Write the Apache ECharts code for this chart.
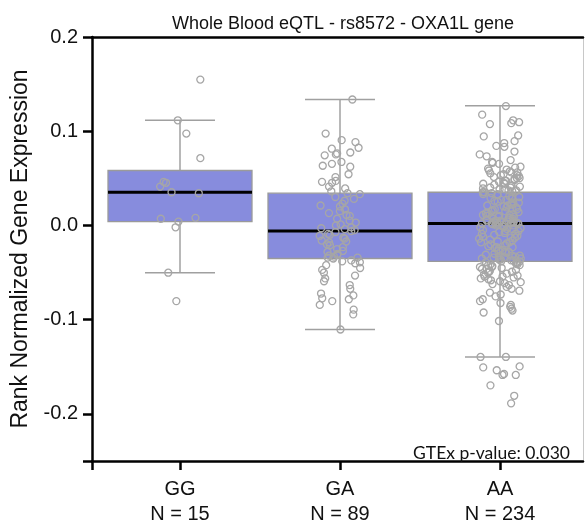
<!DOCTYPE html>
<html>
<head>
<meta charset="utf-8">
<script src="https://cdn.jsdelivr.net/npm/echarts@6/dist/echarts.min.js"></script>
<style>html,body{margin:0;padding:0;background:#fff}#c{width:585px;height:527px}</style>
</head>
<body>
<div id="c"></div>
<script>
// ---- data ----
const categories = ['GG', 'GA', 'AA'];
const sampleSizes = [15, 89, 234];
const whiskerLow = [-0.049, -0.109, -0.138];
const q1 = [0.005, -0.034, -0.037];
const median = [0.036, -0.005, 0.003];
const q3 = [0.059, 0.035, 0.036];
const whiskerHigh = [0.112, 0.134, 0.1275];
const yTickLabels = [-0.2, -0.1, 0, 0.1, 0.2];
const pValueText = 'GTEx p-value: 0.030';
const titleText = 'Whole Blood eQTL - rs8572 - OXA1L gene';

const pointsGG = [0.155, 0.112, 0.098, 0.072, 0.047, 0.046, 0.042, 0.036, 0.035, 0.009, 0.008, 0.005, -0.001, -0.049, -0.079];
const pointsGA = [
  0.134, 0.098, 0.091, 0.089, 0.083, 0.082, 0.078, 0.077, 0.076, 0.075, 0.068, 0.066, 0.064, 0.063, 0.055, 0.052, 0.048, 0.047, 0.046, 0.042, 0.040, 0.037,
  0.035, 0.034, 0.031, 0.029, 0.027, 0.024, 0.022, 0.021, 0.018, 0.016, 0.014, 0.012, 0.011, 0.008, 0.006, 0.004, 0.002, 0.001, -0.001, -0.002, -0.003, -0.004,
  -0.005,
  -0.006, -0.008, -0.009, -0.010, -0.012, -0.013, -0.015, -0.016, -0.017, -0.019, -0.020, -0.022, -0.024, -0.026, -0.027, -0.029, -0.030, -0.031, -0.032, -0.033, -0.033, -0.034,
  -0.036, -0.037, -0.038, -0.039, -0.041, -0.044, -0.046, -0.049, -0.052, -0.055, -0.058, -0.062, -0.066, -0.071, -0.073, -0.076, -0.077, -0.079, -0.083, -0.088, -0.093, -0.109
];
const pointsAA = [
  0.127, 0.118, 0.112, 0.110, 0.109, 0.108, 0.096, 0.095, 0.090, 0.088, 0.085, 0.084, 0.079, 0.076, 0.074, 0.070, 0.068, 0.067, 0.066, 0.063,
  0.062, 0.061, 0.060, 0.059, 0.058, 0.057, 0.057, 0.056, 0.055, 0.054, 0.054, 0.053, 0.052, 0.051, 0.051, 0.050, 0.049, 0.048, 0.048, 0.047,
  0.046, 0.045, 0.045, 0.044, 0.043, 0.043, 0.042, 0.041, 0.041, 0.040, 0.039, 0.039, 0.038, 0.038, 0.037, 0.037, 0.036, 0.036,
  0.035, 0.034, 0.034, 0.033, 0.032, 0.031, 0.031, 0.030, 0.029, 0.028, 0.028, 0.027, 0.026, 0.025, 0.025, 0.024, 0.023, 0.022, 0.022, 0.021,
  0.020, 0.020, 0.019, 0.018, 0.018, 0.017, 0.016, 0.016, 0.015, 0.014, 0.014, 0.013, 0.012, 0.012, 0.011, 0.011, 0.010, 0.010, 0.009, 0.009,
  0.008, 0.008, 0.007, 0.007, 0.006, 0.006, 0.006, 0.005, 0.005, 0.005, 0.004, 0.004, 0.004, 0.004, 0.003, 0.003, 0.003, 0.003,
  0.003,
  0.002, 0.002, 0.001, 0.001, 0.000, 0.000, -0.001, -0.001, -0.002, -0.003, -0.003, -0.004, -0.005, -0.005, -0.006, -0.007, -0.008, -0.008, -0.009, -0.010,
  -0.011, -0.012, -0.012, -0.013, -0.014, -0.015, -0.016, -0.017, -0.017, -0.018, -0.019, -0.020, -0.021, -0.022, -0.022, -0.023, -0.024, -0.025, -0.026, -0.027,
  -0.027, -0.028, -0.029, -0.030, -0.031, -0.031, -0.032, -0.032, -0.033, -0.033, -0.034, -0.034, -0.035, -0.035, -0.036, -0.036, -0.037, -0.037,
  -0.038, -0.038, -0.039, -0.039, -0.040, -0.040, -0.041, -0.041, -0.042, -0.043, -0.043, -0.044, -0.045, -0.045, -0.046, -0.047, -0.048, -0.048, -0.049, -0.050,
  -0.051, -0.052, -0.053, -0.053, -0.054, -0.055, -0.056, -0.057, -0.058, -0.059, -0.060, -0.061, -0.062, -0.064, -0.066, -0.068, -0.070, -0.072, -0.074, -0.077,
  -0.079, -0.081, -0.083, -0.085, -0.087, -0.089, -0.091, -0.100, -0.138, -0.138, -0.148, -0.149, -0.152, -0.156, -0.157, -0.157, -0.168, -0.179, -0.187
];
const pointGroups = [pointsGG, pointsGA, pointsAA];

// ---- build ----
const boxData = categories.map((c, i) => [i, whiskerLow[i], q1[i], median[i], q3[i], whiskerHigh[i]]);
const scatterData = [];
pointGroups.forEach((arr, i) => arr.forEach(v => scatterData.push([i, v])));

const FONT = "'Liberation Sans', Arial, sans-serif";
const chart = echarts.init(document.getElementById('c'), null, {renderer: 'canvas'});
chart.setOption({
  animation: false,
  backgroundColor: '#fff',
  title: [{
    text: titleText, left: 338, top: 10, textAlign: 'center',
    textStyle: {fontFamily: FONT, fontSize: 18, fontWeight: 'normal', color: '#111'}
  }, {
    text: pValueText, right: 10, top: 439,
    textStyle: {fontFamily: "Lato, 'Open Sans', sans-serif", fontSize: 17.5, fontWeight: 'normal', color: '#111'}
  }],
  grid: [
    {left: 92, right: 2, top: 37, bottom: 64},
    {left: 100, right: 5, top: 37, bottom: 64}
  ],
  xAxis: [
    { // display axis (bottom)
      type: 'value', gridIndex: 0, min: -0.55, max: 2.519,
      splitLine: {show: false},
      axisLine: {show: true, onZero: false, lineStyle: {color: '#000', width: 2.5}},
      axisTick: {show: true, length: 9, lineStyle: {color: '#000', width: 2.5}, customValues: [-0.55, 0, 1, 2]},
      axisLabel: {
        customValues: [0, 1, 2], margin: 16, fontFamily: FONT, fontSize: 20, color: '#111', lineHeight: 25,
        formatter: v => categories[Math.round(v)] + '\nN = ' + sampleSizes[Math.round(v)]
      }
    },
    { // top frame line
      type: 'value', gridIndex: 0, position: 'top', min: 0, max: 1,
      splitLine: {show: false}, axisTick: {show: false}, axisLabel: {show: false},
      axisLine: {show: true, onZero: false, lineStyle: {color: '#000', width: 2.5}}
    },
    { // data axis
      type: 'category', gridIndex: 1, data: categories, show: false,
      jitter: 42, jitterOverlap: true
    }
  ],
  yAxis: [
    {
      type: 'value', gridIndex: 0, min: -0.25, max: 0.2,
      name: 'Rank Normalized Gene Expression', nameLocation: 'middle', nameGap: 59,
      nameTextStyle: {fontFamily: FONT, fontSize: 23, color: '#111'},
      splitLine: {show: false},
      axisLine: {show: true, onZero: false, lineStyle: {color: '#000', width: 2.5}},
      axisTick: {show: true, length: 9, lineStyle: {color: '#000', width: 2.5}, customValues: [-0.25].concat(yTickLabels)},
      axisLabel: {customValues: yTickLabels, margin: 14, fontFamily: FONT, fontSize: 20, color: '#111',
        formatter: v => v.toFixed(1)}
    },
    { // right frame line
      type: 'value', gridIndex: 0, position: 'right', min: -0.25, max: 0.2,
      splitLine: {show: false}, axisTick: {show: false}, axisLabel: {show: false},
      axisLine: {show: true, onZero: false, lineStyle: {color: '#c8c8c8', width: 1}}
    },
    {
      type: 'value', gridIndex: 1, min: -0.25, max: 0.2, show: false, splitLine: {show: false}
    }
  ],
  series: [
    {
      type: 'custom', xAxisIndex: 2, yAxisIndex: 2, data: boxData, z: 2,
      renderItem: function (params, api) {
        const x = api.value(0);
        const lo = api.coord([x, api.value(1)]);
        const b1 = api.coord([x, api.value(2)]);
        const md = api.coord([x, api.value(3)]);
        const b3 = api.coord([x, api.value(4)]);
        const hi = api.coord([x, api.value(5)]);
        const cx = lo[0], bw = 144, cw = 70;
        const wStyle = {stroke: '#a0a0a0', lineWidth: 1.5};
        return {
          type: 'group',
          children: [
            {type: 'line', shape: {x1: cx, y1: lo[1], x2: cx, y2: hi[1]}, style: wStyle},
            {type: 'line', shape: {x1: cx - cw / 2, y1: lo[1], x2: cx + cw / 2, y2: lo[1]}, style: wStyle},
            {type: 'line', shape: {x1: cx - cw / 2, y1: hi[1], x2: cx + cw / 2, y2: hi[1]}, style: wStyle},
            {type: 'rect', shape: {x: cx - bw / 2, y: b3[1], width: bw, height: b1[1] - b3[1]},
              style: {fill: '#878cdd', stroke: '#9a9a9a', lineWidth: 1.3}},
            {type: 'line', shape: {x1: cx - bw / 2, y1: md[1], x2: cx + bw / 2, y2: md[1]},
              style: {stroke: '#000', lineWidth: 3}}
          ]
        };
      }
    },
    {
      type: 'scatter', xAxisIndex: 2, yAxisIndex: 2, data: scatterData, z: 3,
      symbol: 'circle', symbolSize: 7,
      itemStyle: {color: 'rgba(0,0,0,0)', borderColor: '#a6a6a6', borderWidth: 1.3, opacity: 1}
    }
  ]
});
</script>
</body>
</html>
